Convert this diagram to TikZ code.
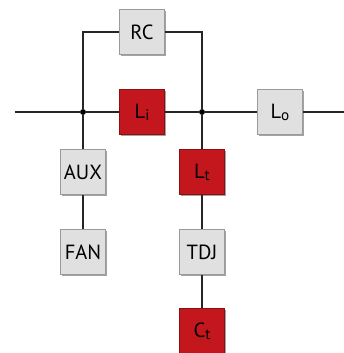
\documentclass[tikz,border=0pt]{standalone}
\usepackage{fontspec}
\setmainfont{PT Sans}
\usetikzlibrary{shadows}
\definecolor{boxred}{HTML}{C3161D}
\definecolor{boxgray}{HTML}{E0E0E0}
\definecolor{boxedge}{HTML}{9A9A9A}
\newcommand{\lowsub}[1]{\raisebox{-1.8pt}{\fontsize{13}{13}\selectfont #1}}

\begin{document}
\begin{tikzpicture}[x = 0.03cm, y = -0.03cm]

\tikzset{
block/.style = {rectangle, draw = boxedge, line width = 0.6pt, minimum width = 1.36cm,
	minimum height = 1.36cm, inner sep = 0pt, fill = boxgray,
	drop shadow = {shadow xshift = 1.3pt, shadow yshift = -1.3pt, fill = black!45, opacity = 0.8},
	font = \fontsize{17.5}{20}\selectfont},
hot/.style = {block, fill = boxred, draw = boxred!70!black},
wire/.style = {line width = 1.1pt, black!85},
junction/.style = {circle, fill = black, inner sep = 0pt, minimum size = 5pt},
}

\useasboundingbox (0, 0) rectangle (344, 353);

%% Blocks
% main line
\node at (142, 112) [hot] (Li) {L\lowsub{i}};
\node at (280, 112) [block] (Lo) {L\lowsub{o}};
\node at (142, 32) [block] (RC) {RC};
% left branch
\node at (83, 172) [block] (AUX) {AUX};
\node at (83, 252) [block] (FAN) {FAN};
% right branch
\node at (202, 172) [hot] (Lt) {L\lowsub{t}};
\node at (202, 252) [block] (TDJ) {TDJ};
\node at (202, 331) [hot] (Ct) {C\lowsub{t}};

%% Wires
\coordinate (in) at (15, 112);
\coordinate (out) at (344, 112);
\node at (83, 112) [junction] (jL) {};
\node at (202, 112) [junction] (jR) {};

\draw [wire] (in) -- (jL) -- (Li) -- (jR) -- (Lo) -- (out);
\draw [wire] (jL) |- (RC);
\draw [wire] (jR) |- (RC);
\draw [wire] (jL) -- (AUX) -- (FAN);
\draw [wire] (jR) -- (Lt) -- (TDJ) -- (Ct);

\end{tikzpicture}
\end{document}
